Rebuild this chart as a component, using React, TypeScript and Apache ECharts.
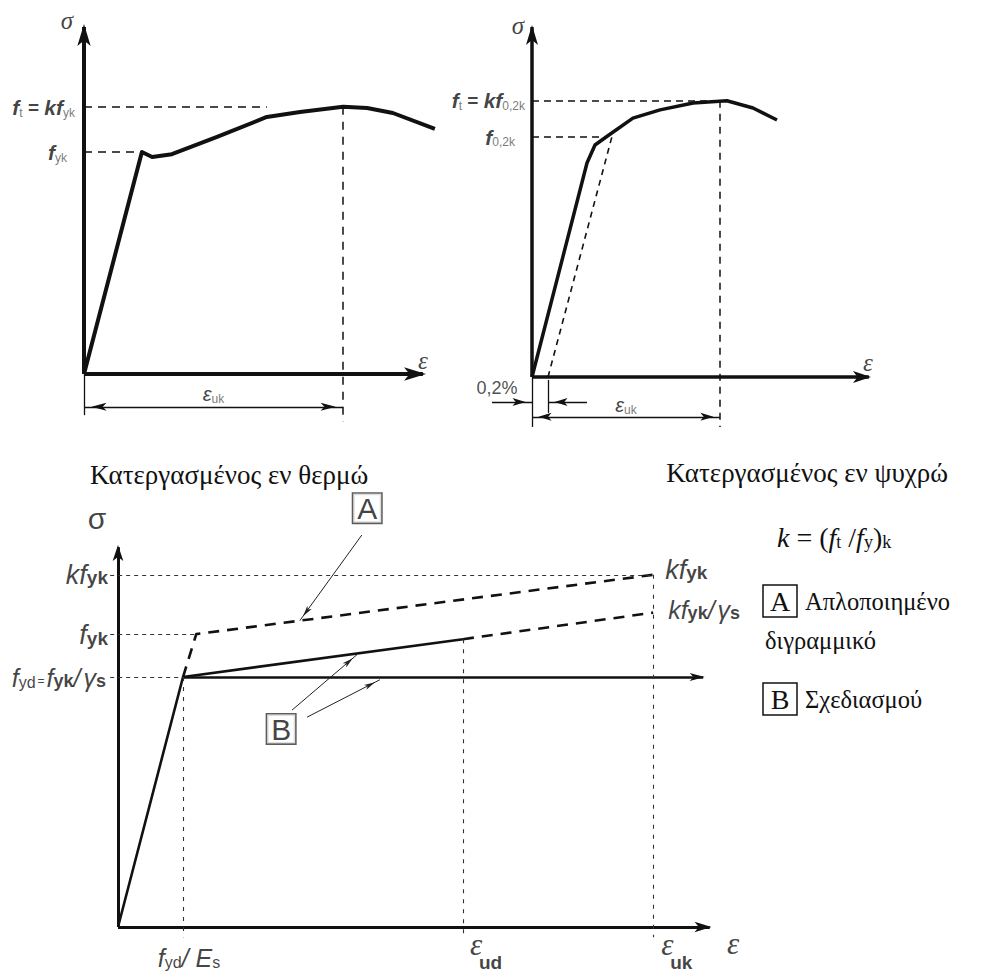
import { useEffect, useRef } from "react";
import * as echarts from "echarts";

type P = [number, number];

const INK = "#111";
const SANS = "'Liberation Sans', Arial, sans-serif";
const SERIF = "'Liberation Serif', 'Times New Roman', serif";

// Hot-rolled bar: characteristic σ–ε curve (drawing units)
const hotStrain = [0, 16.4, 19.3, 24.9, 37.7, 51.8, 61.2, 73.4, 80.2, 87.5, 99.4];
const hotStress = [0, 61.5, 60.1, 60.9, 65.7, 71.2, 72.6, 74.0, 73.7, 72.3, 67.9];
const hotYield = 61.5; // f_yk
const hotTensile = 74.0; // f_t = k f_yk
const hotUltStrain = 73.4; // ε_uk

// Cold-worked bar
const coldStrain = [0, 15.8, 18.1, 21.6, 29.0, 36.8, 46.3, 56.0, 63.5, 70.4];
const coldStress = [0, 59.1, 64.1, 66.5, 71.5, 73.8, 75.7, 76.3, 74.3, 71.0];
const coldProof = 66.5; // f_0,2k
const coldTensile = 76.3; // f_t = k f_0,2k
const coldProofLine = [4.6, 23.0]; // 0,2% offset line: foot, meeting with f_0,2k
const coldUltStrain = 54.0; // ε_uk

// Idealised (A) and design (B) diagrams
const idealStrain = [10.8, 13.0, 57.3, 88.9]; // f_yd/E_s, f_yk/E_s, ε_ud, ε_uk
const idealStress = [64.1, 75.1, 73.8, 80.6, 90.3]; // f_yd, f_yk, σ(ε_ud), k f_yk/γ_s, k f_yk

const [epsYd, epsYk, epsUd, epsUk] = idealStrain;
const [fyd, fyk, sigUd, kfykGs, kfyk] = idealStress;

const zip = (xs: number[], ys: number[]): P[] => xs.map((x, i) => [x, ys[i]]);

// ---------- mark-line helpers ----------
function end(p: P, head: number[] | null) {
  return head
    ? { coord: p, symbol: "arrow", symbolSize: head, symbolOffset: [0, "50%"] }
    : { coord: p, symbol: "none" };
}
function seg(a: P, b: P, lineStyle: object, headA: number[] | null = null, headB: number[] | null = null) {
  return [{ ...end(a, headA), lineStyle }, end(b, headB)];
}
// a thick shaft that stops inside its arrow head, plus the head itself
function arrowLine(from: P, tip: P, width: number, head: number[], back: number) {
  const base: P = [tip[0] - (tip[0] - from[0]) * back, tip[1] - (tip[1] - from[1]) * back];
  return [
    seg(from, base, { width, type: "solid", color: INK, cap: "butt" }),
    seg(base, tip, { width: 0, type: "solid", color: INK }, null, head),
  ];
}
const dashed = (width: number, dash: number[], color = INK) => ({ width, type: dash, color, cap: "butt" });
const solid = (width: number, color = INK) => ({ width, type: "solid", color, cap: "butt" });

const markLine = (data: any[]) => ({
  silent: true,
  symbol: ["none", "none"],
  label: { show: false },
  emphasis: { disabled: true },
  data,
});

function curve(panel: number, data: P[], lineStyle: object, lines?: any[]) {
  return {
    type: "line",
    xAxisIndex: panel,
    yAxisIndex: panel,
    data,
    symbol: "none",
    showSymbol: false,
    silent: true,
    clip: false,
    lineStyle: { join: "round", ...lineStyle },
    markLine: lines ? markLine(lines) : undefined,
  };
}

// ---------- text helpers ----------
function tag(p: P, text: string, rich: object, align: string, vAlign: string, dx: number, dy: number, extra: object = {}) {
  return {
    value: p,
    label: {
      show: true,
      position: "inside",
      formatter: () => text,
      rich,
      align,
      verticalAlign: vAlign,
      offset: [dx, dy],
      color: INK,
      ...extra,
    },
  };
}
function notes(panel: number, data: any[]) {
  return {
    type: "scatter",
    xAxisIndex: panel,
    yAxisIndex: panel,
    symbolSize: 0,
    silent: true,
    clip: false,
    z: 10,
    itemStyle: { color: "transparent" },
    data,
  };
}

const R1 = {
  fi: { fontFamily: SANS, fontStyle: "italic", fontWeight: "bold", fontSize: 21, lineHeight: 24, color: INK },
  eq: { fontFamily: SANS, fontWeight: "bold", fontSize: 19, lineHeight: 24, color: INK },
  sub: { fontFamily: SANS, fontSize: 12, lineHeight: 14, padding: [10, 0, 0, 0], color: "#555" },
  sg: { fontFamily: SERIF, fontStyle: "italic", fontSize: 25, color: INK },
  ep: { fontFamily: SERIF, fontStyle: "italic", fontSize: 25, color: INK },
  ep2: { fontFamily: SANS, fontStyle: "italic", fontSize: 20, lineHeight: 24, color: INK },
  pc: { fontFamily: SANS, fontSize: 18, color: "#222" },
};

const R3 = {
  it: { fontFamily: SANS, fontStyle: "italic", fontSize: 27, lineHeight: 30, color: INK },
  it2: { fontFamily: SANS, fontStyle: "italic", fontSize: 25, lineHeight: 28, color: INK },
  gm: { fontFamily: SANS, fontStyle: "italic", fontSize: 25, lineHeight: 28, padding: [0, 0, 0, 3], color: INK },
  bs: { fontFamily: SANS, fontWeight: "bold", fontSize: 19, lineHeight: 19, padding: [6, 0, 0, 0], color: INK },
  bs2: { fontFamily: SANS, fontWeight: "bold", fontSize: 18, lineHeight: 18, padding: [6, 0, 0, 0], color: INK },
  rs: { fontFamily: SANS, fontSize: 16, lineHeight: 16, padding: [8, 0, 0, 0], color: INK },
  eqs: { fontFamily: SANS, fontSize: 12, lineHeight: 12, padding: [6, 2, 0, 2], color: INK },
  sg: { fontFamily: SANS, fontSize: 30, color: INK },
  ep: { fontFamily: SERIF, fontStyle: "italic", fontSize: 31, lineHeight: 30, color: INK },
  ud: { fontFamily: SANS, fontWeight: "bold", fontSize: 19, lineHeight: 19, color: INK },
  bx: { fontFamily: SANS, fontSize: 30, lineHeight: 28, color: INK },
};
const boxStyle = { borderColor: "#333", borderWidth: 1.5, padding: [1, 4, 0, 4], backgroundColor: "#fff" };

function buildOption() {
  // ---- panel 0: hot-rolled ----
  const dim0 = -9.1;
  const hotLines = [
    ...arrowLine([0, 0], [100, 0], 4, [10, 22], 0.04),
    ...arrowLine([0, 0], [0, 100], 4, [10, 22], 0.039),
    seg([0, hotTensile], [hotStrain[5], hotTensile], dashed(1.5, [8, 6])),
    seg([0, hotYield], [hotStrain[1], hotYield], dashed(1.5, [8, 6])),
    seg([hotUltStrain, hotTensile], [hotUltStrain, -13.3], dashed(1.5, [8, 7])),
    seg([0, 0], [0, -11.4], solid(1.3)),
    seg([0, dim0], [hotUltStrain, dim0], solid(1.3), [6, 15], [6, 15]),
  ];

  // ---- panel 1: cold-worked ----
  const dimA = -6.9;
  const dimB = -11.0;
  const coldLines = [
    ...arrowLine([0, 0], [100, 0], 3.5, [9, 18], 0.032),
    ...arrowLine([0, 0], [0, 100], 3.5, [9, 20], 0.033),
    seg([0, coldTensile], [coldStrain[7], coldTensile], dashed(1.5, [7, 5])),
    seg([0, coldProof], [coldStrain[3], coldProof], dashed(1.5, [7, 5])),
    seg([coldProofLine[0], 0], [coldProofLine[1], coldProof], dashed(1.6, [6, 5])),
    seg([coldUltStrain, coldTensile], [coldUltStrain, -13.8], dashed(1.5, [7, 6])),
    seg([0, 0], [0, -13.8], solid(1.3)),
    seg([coldProofLine[0], -0.8], [coldProofLine[0], -9.9], solid(1.3)),
    seg([-11.5, dimA], [0, dimA], solid(1.3), null, [6, 13]),
    seg([15.8, dimA], [coldProofLine[0], dimA], solid(1.3), null, [6, 13]),
    seg([0, dimB], [coldUltStrain, dimB], solid(1.3), [6, 13], [6, 13]),
  ];

  // ---- panel 2: idealised / design ----
  const aAt = (x: number) => fyk + ((kfyk - fyk) * (x - epsYk)) / (epsUk - epsYk);
  const bAt = (x: number) => fyd + ((sigUd - fyd) * (x - epsYd)) / (epsUd - epsYd);
  const guide = dashed(1.1, [4, 4], "#333");
  const drop = dashed(1.1, [4, 6], "#333");
  const ptr = solid(1, "#222");
  const designLines = [
    ...arrowLine([0, 0], [100, 0], 3, [8, 17], 0.017),
    ...arrowLine([0, 0], [0, 100], 3, [8, 16], 0.026),
    ...arrowLine([epsYd, fyd], [98.7, fyd], 2.5, [6, 15], 0.017),
    seg([-1.3, kfyk], [epsUk, kfyk], guide),
    seg([-1.3, fyk], [epsYk, fyk], guide),
    seg([-1.3, fyd], [epsYd, fyd], guide),
    seg([epsYd, fyd], [epsYd, -2.6], drop),
    seg([epsUd, sigUd], [epsUd, -2.6], drop),
    seg([epsUk, kfyk], [epsUk, -2.6], drop),
    seg([40.5, 100.5], [30.2, aAt(30.2)], ptr, null, [4, 11]),
    seg([28.9, 55.6], [39.7, bAt(39.7) - 0.3], ptr, null, [4, 11]),
    seg([31.4, 53.8], [43.5, fyd - 0.7], ptr, null, [4, 11]),
  ];

  const series: any[] = [
    curve(0, zip(hotStrain, hotStress), { width: 4, color: INK }, hotLines),
    curve(1, zip(coldStrain, coldStress), { width: 3.5, color: INK }, coldLines),
    curve(2, [[0, 0], [epsYd, fyd], [epsUd, sigUd]], { width: 2.6, color: INK }, designLines),
    curve(2, [[epsUd, sigUd], [epsUk, kfykGs]], { width: 2.6, color: INK, type: [11, 8] }),
    curve(2, [[epsYd, fyd], [epsYk, fyk], [epsUk, kfyk]], { width: 2.6, color: INK, type: [11, 8] }),

    notes(0, [
      tag([0, 100], "{sg|σ}", R1, "center", "middle", -17, 7),
      tag([100, 0], "{ep|ε}", R1, "center", "middle", -14, -14),
      tag([0, hotTensile], "{fi|f}{sub|t}{eq| = }{fi|kf}{sub|yk}", R1, "right", "middle", -9, 1),
      tag([0, hotYield], "{fi|f}{sub|yk}", R1, "right", "middle", -17, 1),
      tag([hotUltStrain / 2, dim0], "{ep2|ε}{sub|uk}", R1, "center", "middle", 0, -13),
    ]),
    notes(1, [
      tag([0, 100], "{sg|σ}", R1, "center", "middle", -14, 10),
      tag([100, 0], "{ep|ε}", R1, "center", "middle", -12, -15),
      tag([0, coldTensile], "{fi|f}{sub|t}{eq| = }{fi|kf}{sub|0,2k}", R1, "right", "middle", -7, 0),
      tag([0, coldProof], "{fi|f}{sub|0,2k}", R1, "right", "middle", -17, 1),
      tag([0, 0], "{pc|0,2%}", R1, "center", "middle", -35, 11),
      tag([coldUltStrain / 2, dimB], "{ep2|ε}{sub|uk}", R1, "center", "middle", 0, -12),
    ]),
    notes(2, [
      tag([0, 100], "{sg|σ}", R3, "center", "middle", -21, -19),
      tag([0, kfyk], "{it|kf}{bs|yk}", R3, "right", "middle", -10, 0),
      tag([0, fyk], "{it|f}{bs|yk}", R3, "right", "middle", -10, 1),
      tag([0, fyd], "{it2|f}{rs|yd}{eqs|=}{it2|f}{bs2|yk}{it2|/}{gm|γ}{bs2|s}", R3, "right", "middle", -12, 1),
      tag([epsUk, kfyk], "{it|kf}{bs|yk}", R3, "left", "middle", 12, -5),
      tag([epsUk, kfykGs], "{it2|kf}{bs2|yk}{it2|/}{gm|γ}{bs2|s}", R3, "left", "middle", 15, -3),
      tag([epsYd, 0], "{it2|f}{rs|yd}{it2|/ E}{rs|s}", R3, "center", "middle", 6, 31),
      tag([epsUd, 0], "{ep|ε}", R3, "left", "middle", 7, 17),
      tag([epsUd, 0], "{ud|ud}", R3, "left", "middle", 16, 35),
      tag([epsUk, 0], "{ep|ε}", R3, "left", "middle", 8, 17),
      tag([epsUk, 0], "{ud|uk}", R3, "left", "middle", 17, 35),
      tag([100, 0], "{ep|ε}", R3, "center", "middle", 13, 16),
      tag([41.4, 107.4], "{bx|A}", R3, "center", "middle", 0, 0, boxStyle),
      tag([27.1, 50.8], "{bx|B}", R3, "center", "middle", 0, 0, boxStyle),
    ]),
  ];

  const txt = (x: number, y: number, text: string, font: string, align = "left") => ({
    type: "text",
    x,
    y,
    silent: true,
    style: { text, font, fill: INK, align, verticalAlign: "middle", textAlign: align, textVerticalAlign: "middle" },
  });
  const box = (x: number, y: number) => ({
    type: "rect",
    silent: true,
    shape: { x, y, width: 34, height: 32 },
    style: { fill: "none", stroke: INK, lineWidth: 1.5 },
  });

  const graphic = [
    txt(90, 475, "Κατεργασμένος εν θερμώ", `27px ${SERIF}`),
    txt(948, 473, "Κατεργασμένος εν ψυχρώ", `27px ${SERIF}`, "right"),
    {
      type: "text",
      x: 777,
      y: 537,
      silent: true,
      style: {
        text: "{i|k}{n| = (}{i|f}{s|t}{n| /}{i|f}{s|y}{n|)}{s|k}",
        verticalAlign: "middle",
        textVerticalAlign: "middle",
        rich: {
          i: { fontFamily: SERIF, fontStyle: "italic", fontSize: 28, lineHeight: 30, fill: INK },
          n: { fontFamily: SERIF, fontSize: 28, lineHeight: 30, fill: INK },
          s: { fontFamily: SERIF, fontSize: 18, lineHeight: 18, padding: [10, 0, 0, 0], fill: INK },
        },
      },
    },
    box(763, 585),
    txt(780, 601, "A", `28px ${SERIF}`, "center"),
    txt(805, 601, "Απλοποιημένο", `24.5px ${SERIF}`),
    txt(765, 640, "διγραμμικό", `24.5px ${SERIF}`),
    box(763, 683),
    txt(780, 699, "B", `28px ${SERIF}`, "center"),
    txt(805, 699, "Σχεδιασμού", `24.5px ${SERIF}`),
  ];

  return {
    animation: false,
    backgroundColor: "#fff",
    grid: [
      { left: 84, top: 13, width: 353, height: 415.15 },
      { left: 479.8, top: 15, width: 400.2, height: 416.3 },
      { left: 105.96, top: 498, width: 614.04, height: 448.5 },
    ],
    xAxis: [
      { gridIndex: 0, type: "value", min: 0, max: 100, show: false },
      { gridIndex: 1, type: "value", min: -15, max: 100, show: false },
      { gridIndex: 2, type: "value", min: -2, max: 100, show: false },
    ],
    yAxis: [
      { gridIndex: 0, type: "value", min: -15, max: 100, show: false },
      { gridIndex: 1, type: "value", min: -15, max: 100, show: false },
      { gridIndex: 2, type: "value", min: -5, max: 110, show: false },
    ],
    series,
    graphic,
  };
}

export default function App() {
  const ref = useRef<HTMLDivElement>(null);
  useEffect(() => {
    const chart = echarts.init(ref.current!, null, { renderer: "svg" });
    chart.setOption(buildOption() as any);
    return () => chart.dispose();
  }, []);
  return (
    <div
      ref={ref}
      style={{ position: "fixed", left: 0, top: 0, width: 983, height: 973, background: "#fff" }}
    />
  );
}
